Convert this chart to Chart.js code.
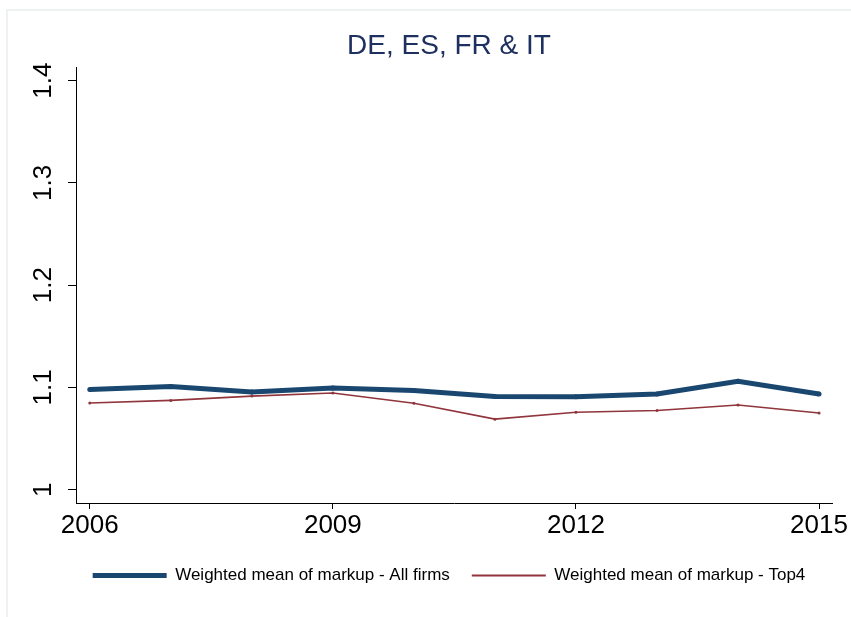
<!DOCTYPE html>
<html>
<head>
<meta charset="utf-8">
<script src="https://cdn.jsdelivr.net/npm/chart.js@4.4.1/dist/chart.umd.min.js"></script>
<style>
  html, body { margin: 0; padding: 0; background: #fff; overflow: hidden; }
  #wrap { position: relative; width: 851px; height: 617px; overflow: hidden; }
  #frame { position: absolute; left: 6px; top: 9px; width: 843px; height: 606px;
           border-left: 2px solid #eef3f2; border-top: 2px solid #eef3f2; }
  canvas { position: absolute; left: 0; top: 0; }
</style>
</head>
<body>
<div id="wrap">
  <div id="frame"></div>
  <canvas id="chart" width="851" height="617"></canvas>
</div>
<script>
// data
const years = [2006, 2007, 2008, 2009, 2010, 2011, 2012, 2013, 2014, 2015];
const allFirms = [1.098, 1.101, 1.0955, 1.0995, 1.097, 1.0912, 1.091, 1.0935, 1.106, 1.0935];
const top4 = [1.0848, 1.0873, 1.0915, 1.0945, 1.0845, 1.069, 1.0758, 1.0775, 1.0828, 1.075];
const xTicks = [2006, 2009, 2012, 2015];
const yTicks = [1, 1.1, 1.2, 1.3, 1.4];

const navy = '#1a476f';
const maroon = '#90353b';
const font = 'Liberation Sans, Arial, sans-serif';
const legendWidths = [5, 2];

// y tick labels are drawn rotated, like the Stata original
const rotatedYLabels = {
  id: 'rotatedYLabels',
  afterDraw(chart) {
    const ctx = chart.ctx;
    const y = chart.scales.y;
    ctx.save();
    ctx.fillStyle = '#000';
    ctx.font = '26px ' + font;
    ctx.textAlign = 'center';
    ctx.textBaseline = 'alphabetic';
    y.ticks.forEach(t => {
      ctx.save();
      ctx.translate(51, y.getPixelForValue(t.value));
      ctx.rotate(-Math.PI / 2);
      ctx.fillText(String(t.value), 0, 0);
      ctx.restore();
    });
    ctx.restore();
  }
};

new Chart(document.getElementById('chart'), {
  type: 'line',
  data: {
    datasets: [
      {
        label: 'Weighted mean of markup - All firms',
        data: years.map((yr, i) => ({ x: yr, y: allFirms[i] })),
        borderColor: navy,
        backgroundColor: navy,
        borderWidth: 5,
        pointRadius: 2.5,
        pointBorderWidth: 0,
        tension: 0
      },
      {
        label: 'Weighted mean of markup - Top4',
        data: years.map((yr, i) => ({ x: yr, y: top4[i] })),
        borderColor: maroon,
        backgroundColor: maroon,
        borderWidth: 1.6,
        pointRadius: 1.5,
        pointBorderWidth: 0,
        tension: 0
      }
    ]
  },
  options: {
    responsive: false,
    animation: false,
    layout: { padding: { top: 0, left: 66, right: 19, bottom: 23 } },
    plugins: {
      title: {
        display: true,
        text: 'DE, ES, FR & IT',
        color: '#1e3060',
        font: { family: font, size: 28, weight: 'normal' },
        padding: { top: 29, bottom: 5 }
      },
      legend: {
        position: 'bottom',
        labels: {
          usePointStyle: true,
          pointStyle: 'line',
          pointStyleWidth: 74,
          color: '#000',
          padding: 22,
          font: { family: font, size: 17 },
          generateLabels: chart =>
            Chart.defaults.plugins.legend.labels.generateLabels(chart).map((l, i) => ({
              ...l,
              pointStyle: 'line',
              lineWidth: legendWidths[i],
              strokeStyle: i === 0 ? navy : maroon
            }))
        }
      },
      tooltip: { enabled: false }
    },
    scales: {
      x: {
        type: 'linear',
        min: 2005.83,
        max: 2015.16,
        afterBuildTicks: s => { s.ticks = xTicks.map(v => ({ value: v })); },
        afterFit: s => { s.height = 42; },
        grid: { drawOnChartArea: false, tickLength: 6, color: '#000', tickColor: '#000' },
        border: { color: '#000', width: 1 },
        ticks: {
          color: '#000',
          padding: 1,
          maxRotation: 0,
          font: { family: font, size: 26 },
          callback: v => String(v)
        }
      },
      y: {
        min: 0.987,
        max: 1.4127,
        afterBuildTicks: s => { s.ticks = yTicks.map(v => ({ value: v })); },
        afterFit: s => { s.width = 10; },
        grid: { drawOnChartArea: false, tickLength: 8, color: '#000', tickColor: '#000' },
        border: { color: '#000', width: 1 },
        ticks: { display: false }
      }
    }
  },
  plugins: [rotatedYLabels]
});
</script>
</body>
</html>
